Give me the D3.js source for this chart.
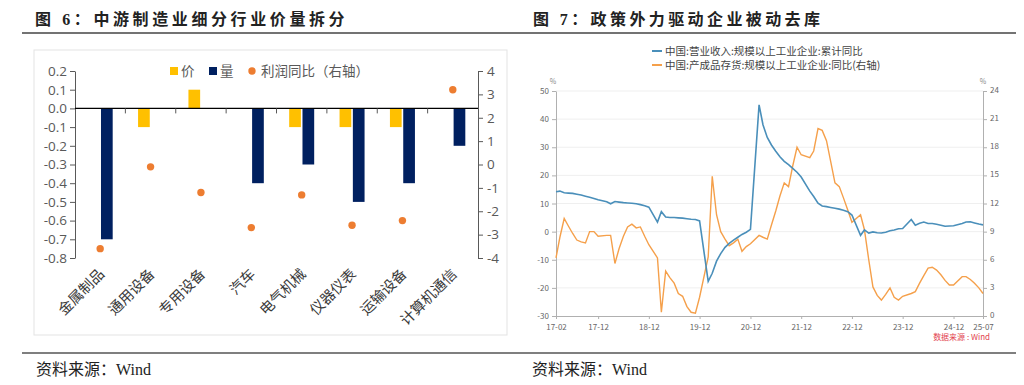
<!DOCTYPE html>
<html>
<head>
<meta charset="utf-8">
<script src="https://cdn.jsdelivr.net/npm/d3@7"></script>
<style>
  body { margin: 0; background: #fff; }
  svg { display: block; }
</style>
</head>
<body>
<div class="chart"></div>
<script>
/* DATA */
// left: 中游制造业细分行业价量拆分
var categories = ["金属制品", "通用设备", "专用设备", "汽车", "电气机械", "仪器仪表", "运输设备", "计算机通信"];
var priceVals  = [0, -0.1, 0.1, 0, -0.1, -0.1, -0.1, 0];
var volumeVals = [-0.7, 0, 0, -0.4, -0.3, -0.5, -0.4, -0.2];
var profitVals = [-3.6, -0.1, -1.2, -2.7, -1.3, -2.6, -2.4, 3.2];
var leftTicks  = [-0.8, -0.7, -0.6, -0.5, -0.4, -0.3, -0.2, -0.1, 0, 0.1, 0.2];
var rightTicks = [-4, -3, -2, -1, 0, 1, 2, 3, 4];

// right: monthly, Feb..Dec each year (no January print), 2017-02 .. 2025-07
var revenueYoY = [
  14.2, 14.4, 13.8, 13.7, 13.6, 13.3, 13.0, 12.6, 12.2, 11.8, 11.3,
  10.6, 9.9, 10.7, 10.5, 10.3, 10.2, 10.1, 9.9, 9.6, 9.2, 8.7,
  3.4, 7.1, 5.2, 5.0, 5.0, 4.9, 4.8, 4.6, 4.4, 4.3, 3.8,
  -17.7, -14.8, -10.5, -7.8, -5.6, -4.2, -3.0, -2.0, -1.0, -0.2, 0.8,
  45.1, 38.0, 33.5, 30.8, 28.6, 26.6, 25.0, 23.8, 22.5, 21.1, 19.4,
  14.4, 12.5, 10.1, 9.1, 8.9, 8.6, 8.3, 8.0, 7.6, 7.1, 5.9,
  -1.3, 0.6, -0.5, -0.1, -0.4, -0.5, -0.2, 0.3, 0.6, 1.0, 1.1,
  4.3, 2.3, 3.0, 3.4, 2.9, 2.9, 2.6, 2.3, 1.9, 2.0, 2.1,
  2.9, 3.4, 3.5, 3.1, 2.7, 2.4
];
var inventoryYoY = [
  6.2, 8.4, 10.4, 9.6, 8.8, 8.1, 7.9, 7.8, 9.0, 9.0, 8.5,
  8.6, 8.6, 5.6, 7.2, 8.5, 9.5, 9.8, 9.4, 9.5, 8.5, 7.6,
  6.2, 0.4, 4.8, 4.1, 3.5, 2.4, 2.1, 1.0, 0.4, 0.3, 2.0,
  6.3, 14.9, 10.8, 9.0, 8.2, 7.5, 7.8, 8.2, 6.9, 7.4, 7.7,
  8.6, 8.4, 8.2, 9.7, 11.2, 12.8, 14.2, 13.8, 16.0, 18.0, 17.2,
  16.9, 17.6, 20.0, 19.8, 18.7, 16.5, 14.2, 13.8, 12.6, 11.3, 10.0,
  10.8, 9.2, 6.0, 3.1, 2.2, 1.7, 2.3, 3.0, 2.0, 1.7, 2.1,
  2.4, 2.6, 3.5, 4.3, 5.1, 5.2, 4.9, 4.4, 3.8, 3.3, 3.3,
  4.2, 4.2, 3.9, 3.5, 3.0, 2.4
];
var xTickLabels = ["17-02", "17-12", "18-12", "19-12", "20-12", "21-12", "22-12", "23-12", "24-12", "25-07"];
var yLeftTicks2  = [-30, -20, -10, 0, 10, 20, 30, 40, 50];
var yRightTicks2 = [0, 3, 6, 9, 12, 15, 18, 21, 24];

var serif = '"Liberation Serif", "Noto Sans CJK SC", serif';
var sans = '"Noto Sans CJK SC", "Noto Sans", sans-serif';

var svg = d3.select(".chart").append("svg")
    .attr("width", 1024)
    .attr("height", 385);

/* FRAME: titles, rules, sources */
svg.append("text").attr("x", 35).attr("y", 25)
    .attr("font-family", serif).attr("font-weight", "bold").attr("font-size", 16)
    .attr("letter-spacing", 3.6).attr("fill", "#222")
    .text("图 6：中游制造业细分行业价量拆分");
svg.append("text").attr("x", 533).attr("y", 25)
    .attr("font-family", serif).attr("font-weight", "bold").attr("font-size", 16)
    .attr("letter-spacing", 3.4).attr("fill", "#222")
    .text("图 7：政策外力驱动企业被动去库");

svg.append("line").attr("x1", 22).attr("x2", 1016).attr("y1", 33).attr("y2", 33)
    .attr("stroke", "#444").attr("stroke-width", 1.5);
svg.append("line").attr("x1", 22).attr("x2", 1016).attr("y1", 353).attr("y2", 353)
    .attr("stroke", "#555").attr("stroke-width", 1.5);

svg.append("text").attr("x", 36).attr("y", 375)
    .attr("font-family", serif).attr("font-size", 16).attr("fill", "#222")
    .text("资料来源：Wind");
svg.append("text").attr("x", 532).attr("y", 375)
    .attr("font-family", serif).attr("font-size", 16).attr("fill", "#222")
    .text("资料来源：Wind");

/* LEFT CHART */
svg.append("rect").attr("x", 34).attr("y", 50).attr("width", 473).attr("height", 285)
    .attr("fill", "none").attr("stroke", "#e3e3e3");

var xBand = d3.scaleBand().domain(categories).range([75, 478]);
var xSub = d3.scaleBand().domain(["价", "量"])
    .range([xBand.bandwidth() / 2 - 12.5, xBand.bandwidth() / 2 + 12.5])
    .paddingInner(0.12);
var yL = d3.scaleLinear().domain([-0.8, 0.2]).range([258, 71]);
var yR = d3.scaleLinear().domain([-4, 4]).range([258, 71]);

var left = svg.append("g").attr("class", "left-chart");

// left axis
left.append("g")
    .attr("transform", "translate(75,0)")
    .call(d3.axisLeft(yL).tickValues(leftTicks).tickSize(5).tickSizeOuter(0)
        .tickFormat(function(d) { return (Math.abs(d) < 1e-9 ? 0 : d).toFixed(1); }))
    .call(function(g) {
        g.selectAll("path, line").attr("stroke", "#595959");
        g.selectAll("text").attr("font-family", '"Open Sans", "Liberation Sans", sans-serif')
            .attr("font-size", 13.5).attr("fill", "#595959").attr("x", -8);
    });

// right axis
left.append("g")
    .attr("transform", "translate(478,0)")
    .call(d3.axisRight(yR).tickValues(rightTicks).tickSize(5).tickSizeOuter(0)
        .tickFormat(function(d) { return String(d); }))
    .call(function(g) {
        g.selectAll("path, line").attr("stroke", "#595959");
        g.selectAll("text").attr("font-family", '"Open Sans", "Liberation Sans", sans-serif')
            .attr("font-size", 13.5).attr("fill", "#595959").attr("x", 9);
    });

// bars
var barData = [];
categories.forEach(function(c, i) {
    barData.push({ cat: c, key: "价", v: priceVals[i] });
    barData.push({ cat: c, key: "量", v: volumeVals[i] });
});
left.selectAll(".bar")
    .data(barData.filter(function(d) { return d.v !== 0; }))
    .enter().append("rect")
    .attr("class", "bar")
    .attr("x", function(d) { return xBand(d.cat) + xSub(d.key); })
    .attr("width", xSub.bandwidth())
    .attr("y", function(d) { return yL(Math.max(0, d.v)); })
    .attr("height", function(d) { return Math.abs(yL(d.v) - yL(0)); })
    .attr("fill", function(d) { return d.key === "价" ? "#FFC000" : "#002060"; });

// zero line with category ticks
left.append("line")
    .attr("x1", 75).attr("x2", 478).attr("y1", yL(0)).attr("y2", yL(0))
    .attr("stroke", "#000").attr("stroke-width", 1.2);
left.selectAll(".cat-tick")
    .data(categories.slice(1))
    .enter().append("line")
    .attr("x1", function(d) { return xBand(d); })
    .attr("x2", function(d) { return xBand(d); })
    .attr("y1", yL(0)).attr("y2", yL(0) + 5)
    .attr("stroke", "#595959");

// profit dots
left.selectAll(".dot")
    .data(profitVals)
    .enter().append("circle")
    .attr("class", "dot")
    .attr("r", 3.7)
    .attr("cx", function(d, i) { return xBand(categories[i]) + xBand.bandwidth() / 2; })
    .attr("cy", function(d) { return yR(d); })
    .attr("fill", "#ED7D31");

// category labels
left.selectAll(".cat-label")
    .data(categories)
    .enter().append("text")
    .attr("class", "cat-label")
    .attr("transform", function(d) {
        return "translate(" + (xBand(d) + xBand.bandwidth() / 2 + 5) + ",275) rotate(-45)";
    })
    .attr("text-anchor", "end")
    .attr("font-family", sans).attr("font-size", 14.5).attr("fill", "#3a3a3a")
    .text(function(d) { return d; });

// legend
var lg = left.append("g").attr("font-family", sans).attr("font-size", 13.5).attr("fill", "#595959");
lg.append("rect").attr("x", 170).attr("y", 67).attr("width", 8).attr("height", 8).attr("fill", "#FFC000");
lg.append("text").attr("x", 181).attr("y", 76).text("价");
lg.append("rect").attr("x", 209).attr("y", 67).attr("width", 8).attr("height", 8).attr("fill", "#002060");
lg.append("text").attr("x", 220).attr("y", 76).text("量");
lg.append("circle").attr("cx", 252).attr("cy", 71).attr("r", 3.7).attr("fill", "#ED7D31");
lg.append("text").attr("x", 261).attr("y", 76).text("利润同比（右轴）");

/* RIGHT CHART */
var months = d3.timeMonth.range(new Date(2017, 1, 1), new Date(2025, 7, 1))
    .filter(function(d) { return d.getMonth() !== 0; });
var parseTick = d3.timeParse("%y-%m");

var xT = d3.scaleTime().domain([new Date(2017, 1, 1), new Date(2025, 6, 1)]).range([556, 983]);
var y2L = d3.scaleLinear().domain([-30, 50]).range([316, 91]);
var y2R = d3.scaleLinear().domain([0, 24]).range([316, 91]);

var right = svg.append("g").attr("class", "right-chart");

// gridlines
right.selectAll(".grid")
    .data(yLeftTicks2.slice(1))
    .enter().append("line")
    .attr("x1", 556).attr("x2", 983)
    .attr("y1", function(d) { return y2L(d); })
    .attr("y2", function(d) { return y2L(d); })
    .attr("stroke", "#efefef");

function styleSmall(g) {
    g.selectAll("path, line").attr("stroke", "#b0b0b0");
    g.selectAll("text").attr("font-family", sans).attr("font-size", 8).attr("fill", "#666");
}

right.append("g").attr("transform", "translate(556,0)")
    .call(d3.axisLeft(y2L).tickValues(yLeftTicks2).tickSize(4).tickSizeOuter(0)
        .tickFormat(function(d) { return String(d); }))
    .call(styleSmall);
right.append("g").attr("transform", "translate(983,0)")
    .call(d3.axisRight(y2R).tickValues(yRightTicks2).tickSize(4).tickSizeOuter(0)
        .tickFormat(function(d) { return String(d); }))
    .call(styleSmall)
    .call(function(g) { g.selectAll("text").attr("dy", "0.2em"); });
right.append("g").attr("transform", "translate(0,316)")
    .call(d3.axisBottom(xT).tickValues(xTickLabels.map(parseTick)).tickSize(3).tickSizeOuter(0)
        .tickFormat(d3.timeFormat("%y-%m")))
    .call(styleSmall)
    .call(function(g) { g.selectAll("text").attr("y", 8); });

right.append("text").attr("x", 553).attr("y", 84).attr("text-anchor", "middle")
    .attr("font-family", sans).attr("font-size", 7).attr("fill", "#888").text("%");
right.append("text").attr("x", 983).attr("y", 84).attr("text-anchor", "middle")
    .attr("font-family", sans).attr("font-size", 7).attr("fill", "#888").text("%");

var revLine = d3.line()
    .x(function(d, i) { return xT(months[i]); })
    .y(function(d) { return y2L(d); });
var invLine = d3.line()
    .x(function(d, i) { return xT(months[i]); })
    .y(function(d) { return y2R(d); });

right.append("path").datum(inventoryYoY)
    .attr("d", invLine).attr("fill", "none")
    .attr("stroke", "#F5A04B").attr("stroke-width", 1.4);
right.append("path").datum(revenueYoY)
    .attr("d", revLine).attr("fill", "none")
    .attr("stroke", "#4A8FBA").attr("stroke-width", 1.6);

// legend
var lg2 = right.append("g").attr("font-family", sans).attr("font-size", 10.5).attr("fill", "#444");
lg2.append("line").attr("x1", 652).attr("x2", 662).attr("y1", 51).attr("y2", 51)
    .attr("stroke", "#4A8FBA").attr("stroke-width", 2);
lg2.append("text").attr("x", 665).attr("y", 55).text("中国:营业收入:规模以上工业企业:累计同比");
lg2.append("line").attr("x1", 652).attr("x2", 662).attr("y1", 65).attr("y2", 65)
    .attr("stroke", "#F5A04B").attr("stroke-width", 2);
lg2.append("text").attr("x", 665).attr("y", 69).text("中国:产成品存货:规模以上工业企业:同比(右轴)");

right.append("text").attr("x", 990).attr("y", 340).attr("text-anchor", "end")
    .attr("font-family", sans).attr("font-size", 8).attr("fill", "#E2444E")
    .text("数据来源 : Wind");
</script>
</body>
</html>
